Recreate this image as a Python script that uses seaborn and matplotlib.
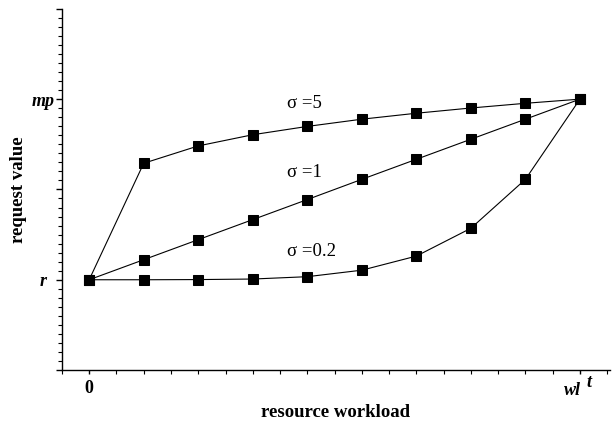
import numpy as np
import pandas as pd
import matplotlib
matplotlib.use("Agg")
import matplotlib.pyplot as plt
import seaborn as sns
from matplotlib.ticker import MultipleLocator, FixedLocator, FuncFormatter

# workload steps 0..9 (9 = wl^t), values normalised so that r = 0 and mp = 1
workload = [0, 1, 2, 3, 4, 5, 6, 7, 8, 9]
sigma_5 = [0.0, 0.645, 0.741, 0.803, 0.849, 0.889, 0.922, 0.951, 0.977, 1.0]
sigma_1 = [0.0, 0.111, 0.222, 0.333, 0.444, 0.556, 0.667, 0.778, 0.889, 1.0]
sigma_02 = [0.0, 0.0, 0.001, 0.004, 0.017, 0.053, 0.131, 0.285, 0.556, 1.0]
series_labels = ["\u03c3 =5", "\u03c3 =1", "\u03c3 =0.2"]
label_y = [0.975, 0.595, 0.157]
y_tick_names = {0.0: "r", 1.0: "mp"}

df = pd.DataFrame({
    "workload": workload * 3,
    "value": sigma_5 + sigma_1 + sigma_02,
    "sigma": [series_labels[0]] * 10 + [series_labels[1]] * 10 + [series_labels[2]] * 10,
})

sns.set_style("ticks")
plt.rcParams["font.family"] = ["Liberation Serif", "DejaVu Serif"]
for k in ["text.color", "axes.labelcolor", "xtick.color", "ytick.color", "axes.edgecolor"]:
    plt.rcParams[k] = "black"

fig = plt.figure(figsize=(6.13, 4.21), dpi=100)
ax = fig.add_axes([0.101, 0.121, 0.894, 0.858])

sns.lineplot(data=df, x="workload", y="value", hue="sigma", style="sigma",
             palette=["black"] * 3, markers=["s"] * 3, dashes=False,
             markersize=6.8, linewidth=0.8, markeredgecolor="black",
             legend=False, ax=ax)

for lab, yy in zip(series_labels, label_y):
    ax.text(3.62, yy, lab, fontsize=13.5, ha="left", va="center")

ax.set_xlim(-0.5, 9.55)
ax.set_ylim(-0.5, 1.5)
sns.despine(ax=ax)
for s in ["left", "bottom"]:
    ax.spines[s].set_linewidth(1.0)

ax.xaxis.set_major_locator(FixedLocator([0, 9]))
ax.xaxis.set_minor_locator(MultipleLocator(0.5))
ax.set_xticklabels(["0", ""], fontweight="bold")
ax.yaxis.set_major_locator(MultipleLocator(0.5))
ax.yaxis.set_minor_locator(MultipleLocator(0.05))
ax.yaxis.set_major_formatter(FuncFormatter(lambda v, p: y_tick_names.get(round(v, 2), "")))
for t in ax.get_yticklabels():
    t.set_fontweight("bold")
    t.set_fontstyle("italic")
    t.set_horizontalalignment("center")
ax.tick_params(axis="both", which="major", length=4, width=1, labelsize=13)
ax.tick_params(axis="both", which="minor", length=3, width=0.8)
ax.tick_params(axis="x", which="major", length=3, pad=4)
ax.tick_params(axis="y", which="major", pad=9.5)

# wl with superscript t under the last tick
ax.annotate("wl", xy=(9, 0), xycoords=("data", "axes fraction"),
            xytext=(1, -8.5), textcoords="offset points",
            fontsize=13, fontweight="bold", fontstyle="italic", ha="right", va="top")
ax.annotate("t", xy=(9, 0), xycoords=("data", "axes fraction"),
            xytext=(5, -3), textcoords="offset points",
            fontsize=13, fontweight="bold", fontstyle="italic", ha="left", va="top")

ax.set_xlabel("resource workload", fontsize=13.5, fontweight="bold", labelpad=5)
ax.set_ylabel("request value", fontsize=13.5, fontweight="bold", labelpad=3)

fig.savefig("out.png", dpi=100)
